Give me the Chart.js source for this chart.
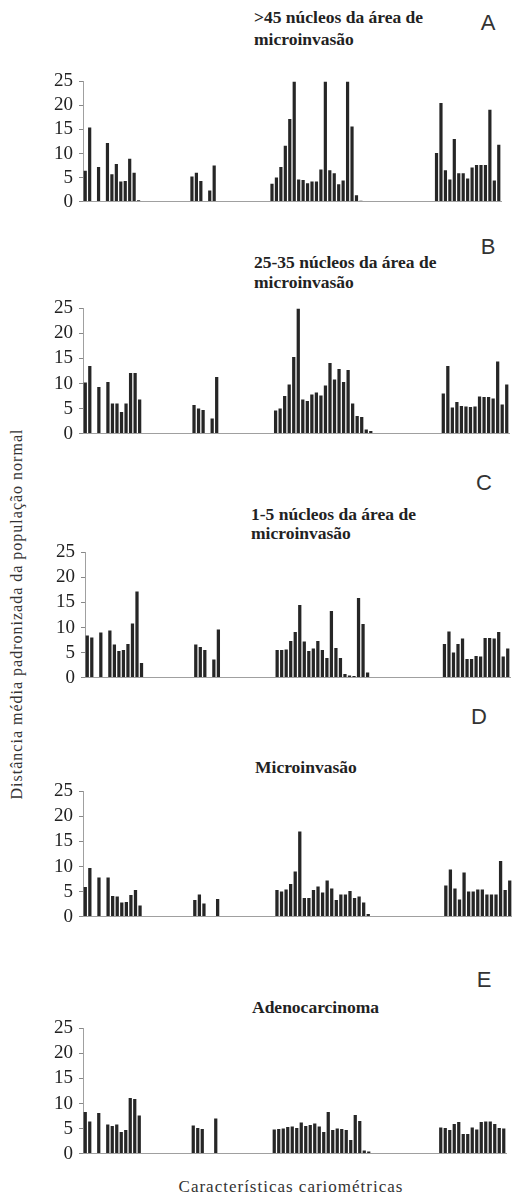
<!DOCTYPE html>
<html>
<head>
<meta charset="utf-8">
<script src="https://cdn.jsdelivr.net/npm/chart.js@4/dist/chart.umd.min.js"></script>
<style>
  html, body { margin:0; padding:0; background:#fff; }
  #wrap { position:relative; width:512px; height:1197px; overflow:hidden; background:#fff; }
  canvas { position:absolute; left:0; }
  .t { position:absolute; font-family:'Liberation Serif','Times New Roman',serif; font-weight:bold; font-size:17.5px; color:#222; line-height:20px; white-space:nowrap; }
  .L { position:absolute; font-family:'Liberation Sans',Arial,sans-serif; font-size:22px; color:#333; line-height:22px; width:30px; text-align:center; }
  .ax { position:absolute; font-family:'Liberation Serif','Times New Roman',serif; font-size:16px; color:#333; line-height:20px; white-space:nowrap; text-align:center; letter-spacing:1px; }
</style>
</head>
<body>
<div id="wrap">
  <div class="t" style="left:254px; top:7px;">&gt;45 núcleos da área de</div>
  <div class="t" style="left:254px; top:29px;">microinvasão</div>
  <div class="L" style="left:473px; top:12px;">A</div>

  <div class="t" style="left:254px; top:252px;">25-35 núcleos da área de</div>
  <div class="t" style="left:254px; top:272px;">microinvasão</div>
  <div class="L" style="left:473px; top:236px;">B</div>

  <div class="t" style="left:251px; top:504px;">1-5 núcleos da área de</div>
  <div class="t" style="left:251px; top:523px;">microinvasão</div>
  <div class="L" style="left:469px; top:472px;">C</div>

  <div class="t" style="left:255px; top:757px;">Microinvasão</div>
  <div class="L" style="left:464px; top:706px;">D</div>

  <div class="t" style="left:252px; top:997px;">Adenocarcinoma</div>
  <div class="L" style="left:469px; top:969px;">E</div>

  <div class="ax" style="left:-183px; top:604px; width:400px; transform:rotate(-90deg);">Distância média padronizada da população normal</div>
  <div class="ax" style="left:141px; top:1177px; width:300px; font-size:17px;">Características cariométricas</div>

  <canvas id="cA"></canvas>
  <canvas id="cB"></canvas>
  <canvas id="cC"></canvas>
  <canvas id="cD"></canvas>
  <canvas id="cE"></canvas>
</div>
<script>
// 94 karyometric features (categories)
const categories = ["1","2","3","4","5","6","7","8","9","10","11","12","13","14","15","16","17","18","19","20","21","22","23","24","25","26","27","28","29","30","31","32","33","34","35","36","37","38","39","40","41","42","43","44","45","46","47","48","49","50","51","52","53","54","55","56","57","58","59","60","61","62","63","64","65","66","67","68","69","70","71","72","73","74","75","76","77","78","79","80","81","82","83","84","85","86","87","88","89","90","91","92","93","94"];

const yTicks = [0, 5, 10, 15, 20, 25];

// A: >45 núcleos da área de microinvasão
const seriesA = [6.4,15.4,0,7.2,0,12.2,5.7,7.8,4.2,4.3,8.9,6.0,0.3,
  0,0,0,0,0,0,0,0,0,0,0,
  5.2,6.0,4.3,0,2.3,7.5,
  0,0,0,0,0,0,0,0,0,0,0,0,
  3.7,5.0,7.2,11.6,17.2,25,4.6,4.5,3.8,4.2,4.2,6.7,25,6.5,5.9,3.6,4.4,25,15.6,1.3,0.2,0,
  0,0,0,0,0,0,0,0,0,0,0,0,0,0,0,
  10.1,20.5,6.5,4.6,13.0,5.9,5.9,4.8,7.1,7.6,7.6,7.6,19.1,4.4,11.8];

// B: 25-35 núcleos da área de microinvasão
const seriesB = [10.2,13.5,0,9.3,0,10.3,6.0,6.0,4.3,6.0,12.1,12.1,6.8,
  0,0,0,0,0,0,0,0,0,0,0,
  5.7,5.0,4.7,0,3.0,11.3,
  0,0,0,0,0,0,0,0,0,0,0,0,
  4.6,5.0,7.5,9.8,15.3,25,6.8,6.5,7.8,8.2,7.6,9.6,14.1,10.8,12.9,10.3,12.7,6.0,3.5,3.3,0.8,0.5,
  0,0,0,0,0,0,0,0,0,0,0,0,0,0,0,
  8.0,13.5,5.2,6.3,5.5,5.4,5.3,5.4,7.4,7.3,7.3,7.0,14.4,5.8,9.8];

// C: 1-5 núcleos da área de microinvasão
const seriesC = [8.4,8.0,0,9.0,0,9.4,6.6,5.3,5.5,6.7,10.8,17.2,2.9,
  0,0,0,0,0,0,0,0,0,0,0,
  6.6,6.1,5.5,0,3.6,9.6,
  0,0,0,0,0,0,0,0,0,0,0,0,
  5.5,5.5,5.6,7.3,9.1,14.5,7.2,5.3,5.8,7.3,5.5,3.9,13.3,5.9,3.9,0.7,0.4,0.3,15.9,10.7,1.0,0,
  0,0,0,0,0,0,0,0,0,0,0,0,0,0,0,
  6.7,9.2,5.0,6.7,7.8,3.7,3.7,4.3,4.2,7.9,7.9,7.8,9.1,4.2,5.8];

// D: Microinvasão
const seriesD = [5.9,9.7,0,7.8,0,7.8,4.1,4.0,2.8,2.9,4.3,5.3,2.2,
  0,0,0,0,0,0,0,0,0,0,0,
  3.3,4.4,2.6,0,0,3.5,
  0,0,0,0,0,0,0,0,0,0,0,0,
  5.3,5.0,5.4,6.5,9.0,17.0,3.7,3.7,5.3,6.0,4.8,7.2,5.6,3.3,4.4,4.4,5.1,3.7,4.0,2.8,0.5,0,
  0,0,0,0,0,0,0,0,0,0,0,0,0,0,0,
  6.2,9.4,5.6,3.4,8.8,5.0,5.0,5.4,5.4,4.4,4.4,4.4,11.1,5.3,7.2];

// E: Adenocarcinoma
const seriesE = [8.3,6.4,0,8.1,0,5.8,5.5,5.8,4.3,4.7,11.1,10.9,7.6,
  0,0,0,0,0,0,0,0,0,0,0,
  5.6,5.1,4.9,0,0,7.0,
  0,0,0,0,0,0,0,0,0,0,0,0,
  4.8,4.9,5.0,5.3,5.4,5.1,6.2,5.5,5.7,6.0,5.4,4.3,8.3,4.7,5.0,4.9,4.7,2.7,7.7,6.5,0.6,0.4,
  0,0,0,0,0,0,0,0,0,0,0,0,0,0,0,
  5.2,5.1,4.7,5.9,6.3,3.9,3.9,5.2,4.8,6.3,6.4,6.4,5.9,5.1,5.0];

// panel plot-area geometry (pixels)
const panels = [
  {id:'cA', data:seriesA, top:76,    bottom:207,  left:83, right:501},
  {id:'cB', data:seriesB, top:302.5, bottom:438,  left:83, right:509},
  {id:'cC', data:seriesC, top:547,   bottom:683,  left:85, right:510},
  {id:'cD', data:seriesD, top:786,   bottom:922,  left:83, right:512},
  {id:'cE', data:seriesE, top:1023,  bottom:1159, left:83, right:506}
];

const PAD = 12;
panels.forEach(p => {
  const cv = document.getElementById(p.id);
  const h = Math.round(p.bottom - p.top) + 2*PAD;
  cv.width = 512; cv.height = h;
  cv.style.width = '512px'; cv.style.height = h + 'px';
  cv.style.top = (p.top - PAD) + 'px';
  new Chart(cv, {
    type: 'bar',
    data: { labels: categories, datasets: [{ data: p.data, backgroundColor: '#262626', borderWidth: 0, barPercentage: 0.72, categoryPercentage: 1 }] },
    options: {
      responsive: false, maintainAspectRatio: false, animation: false,
      layout: { padding: { left: 0, right: 512 - p.right, top: PAD, bottom: PAD } },
      plugins: { legend: { display: false }, tooltip: { enabled: false } },
      scales: {
        x: {
          grid: { display: false, drawTicks: false },
          ticks: { display: false },
          border: { display: true, color: '#a0a0a0', dash: [2, 2], width: 1 },
          afterFit(s) { s.height = 0; }
        },
        y: {
          min: 0, max: 25,
          afterBuildTicks(s) { s.ticks = yTicks.map(v => ({ value: v })); },
          ticks: { font: { family: "'Liberation Serif','Times New Roman',serif", size: 19 }, color: '#222', padding: 6 },
          grid: { drawOnChartArea: false, drawTicks: true, tickLength: 4, color: '#888' },
          border: { display: true, color: '#a0a0a0', dash: [1, 1], width: 1 },
          afterFit(s) { s.width = p.left; }
        }
      }
    }
  });
});
</script>
</body>
</html>
